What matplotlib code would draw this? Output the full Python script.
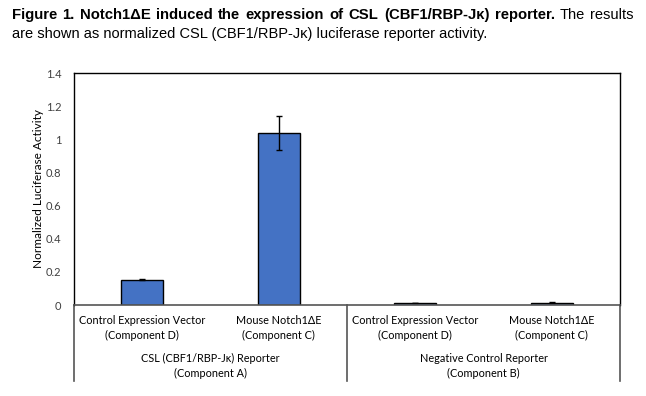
import matplotlib
matplotlib.use("Agg")
import matplotlib.pyplot as plt
import numpy as np

conditions = ["Control Expression Vector\n(Component D)", "Mouse Notch1\u0394E\n(Component C)",
              "Control Expression Vector\n(Component D)", "Mouse Notch1\u0394E\n(Component C)"]
groups = ["CSL (CBF1/RBP-J\u03ba) Reporter\n(Component A)", "Negative Control Reporter\n(Component B)"]
values = [0.152, 1.04, 0.013, 0.014]
errors = [0.003, 0.103, 0.002, 0.003]
yticks = [0, 0.2, 0.4, 0.6, 0.8, 1.0, 1.2, 1.4]
ytick_labels = ["0", "0.2", "0.4", "0.6", "0.8", "1", "1.2", "1.4"]
title_bold = "Figure 1. Notch1\u0394E induced the expression of CSL (CBF1/RBP-J\u03ba) reporter."
title_rest = "The results"
caption_line2 = "are shown as normalized CSL (CBF1/RBP-J\u03ba) luciferase reporter activity."

W, H = 646, 396
fig = plt.figure(figsize=(W / 100, H / 100), dpi=100)
ax = fig.add_axes([74 / W, 1 - 305 / H, (620 - 74) / W, (305 - 73) / H])

x = np.arange(len(values))
ax.bar(x, values, width=0.31, color="#4472C4", edgecolor="black", linewidth=1.0,
       yerr=errors, capsize=2, error_kw=dict(ecolor="black", elinewidth=1.0, capthick=1.0), zorder=2)
ax.set_xlim(-0.5, len(values) - 0.5)
ax.set_ylim(0, 1.4)
ax.set_yticks(yticks)
ax.set_yticklabels(ytick_labels, fontsize=8, family="Lato", color="#404040")
ax.tick_params(axis="y", length=0, pad=9)
ax.set_xticks([])
for s in ["left", "right", "top"]:
    ax.spines[s].set_color("black")
    ax.spines[s].set_linewidth(1.0)
ax.spines["bottom"].set_color("#555555")
ax.spines["bottom"].set_linewidth(1.2)
ax.set_ylabel("Normalized Luciferase Activity", fontsize=8.5, family="Lato", labelpad=1.5)

axh = 305 - 73
def yf(py):
    return -(py - 305) / axh

trans = ax.get_xaxis_transform()
for i, lab in enumerate(conditions):
    ax.text(x[i], yf(328), lab, transform=trans, ha="center", va="center",
            fontsize=7.8, family="Lato", linespacing=1.4)
for g, lab in enumerate(groups):
    ax.text(2 * g + 0.5, yf(366), lab, transform=trans, ha="center", va="center",
            fontsize=7.8, family="Lato", linespacing=1.4)
for xv in [-0.5, 1.5, 3.5]:
    ax.plot([xv, xv], [0, yf(381)], transform=trans, color="#555555", lw=1.2, clip_on=False)

# Justified first caption line
words = [(w, "bold") for w in title_bold.split()] + [(w, "normal") for w in title_rest.split()]
texts = []
for w, wt in words:
    texts.append(fig.text(0, 1 - 15 / H, w, fontsize=10.7 if wt == "bold" else 10.5,
                          fontweight=wt, family="Liberation Sans", ha="left", va="center"))
fig.canvas.draw()
renderer = fig.canvas.get_renderer()
widths = [t.get_window_extent(renderer).width for t in texts]
x0, x1 = 12, 634
gap = (x1 - x0 - sum(widths)) / (len(words) - 1)
pos = x0
for t, wdt in zip(texts, widths):
    t.set_x(pos / W)
    pos += wdt + gap

fig.text(12 / W, 1 - 34 / H, caption_line2,
         fontsize=10.5, family="Liberation Sans", ha="left", va="center")

fig.savefig("out.png", dpi=100)
